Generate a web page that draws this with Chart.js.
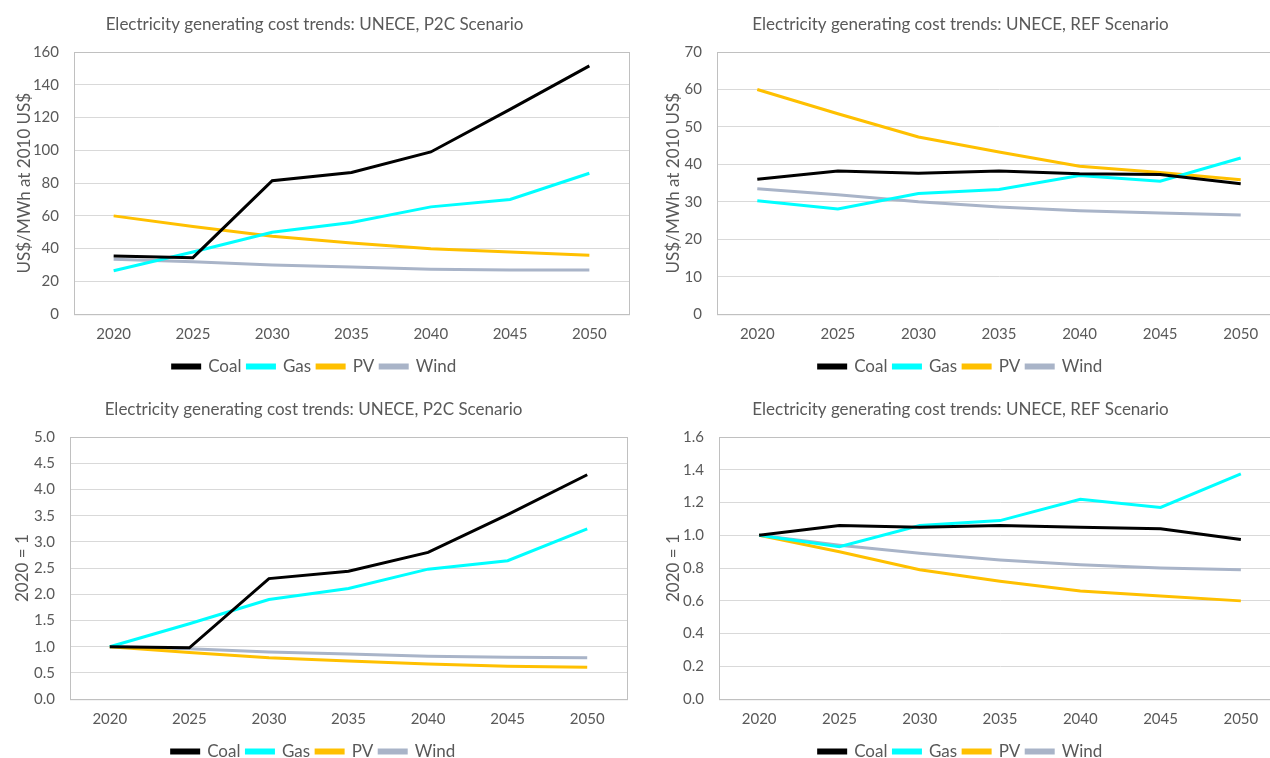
<!DOCTYPE html>
<html>
<head>
<meta charset="utf-8">
<script src="https://cdn.jsdelivr.net/npm/chart.js@4/dist/chart.umd.min.js"></script>
<style>
    body { margin: 0; background: #fff; overflow: hidden; width: 1270px; height: 758px; position: relative; }
    .box { position: absolute; }
</style>
</head>
<body>
<div class="box" style="left:0px;top:0px;width:640px;height:385px"><canvas id="P2CCost"></canvas></div>
<div class="box" style="left:640px;top:0px;width:656px;height:385px"><canvas id="REFCost"></canvas></div>
<div class="box" style="left:0px;top:385px;width:640px;height:385px"><canvas id="P2CIndex"></canvas></div>
<div class="box" style="left:640px;top:385px;width:656px;height:385px"><canvas id="REFIndex"></canvas></div>
<script>
var years = ["2020", "2025", "2030", "2035", "2040", "2045", "2050"];

// US$/MWh at 2010 US$
var p2cCoal = [35.5, 34.5, 81.5, 86.5, 99, 125, 151.5];
var p2cGas = [26.5, 38, 50, 56, 65.5, 70, 86];
var p2cPV = [60, 53.5, 47.5, 43.5, 40, 38, 36];
var p2cWind = [33.5, 32, 30, 28.8, 27.5, 27, 27];

var refCoal = [36, 38.2, 37.6, 38.2, 37.5, 37.3, 34.8];
var refGas = [30.3, 28.1, 32.2, 33.3, 37, 35.5, 41.7];
var refPV = [60, 53.5, 47.3, 43.3, 39.5, 37.8, 35.9];
var refWind = [33.5, 31.9, 30, 28.6, 27.6, 27, 26.5];

// 2020 = 1
var p2cCoalIdx = [1, 0.98, 2.3, 2.44, 2.8, 3.52, 4.28];
var p2cGasIdx = [1, 1.44, 1.9, 2.11, 2.48, 2.64, 3.25];
var p2cPVIdx = [1, 0.89, 0.79, 0.73, 0.67, 0.63, 0.61];
var p2cWindIdx = [1, 0.96, 0.9, 0.86, 0.82, 0.8, 0.79];

var refCoalIdx = [1, 1.06, 1.05, 1.06, 1.05, 1.04, 0.975];
var refGasIdx = [1, 0.93, 1.06, 1.09, 1.22, 1.17, 1.375];
var refPVIdx = [1, 0.9, 0.79, 0.72, 0.66, 0.63, 0.6];
var refWindIdx = [1, 0.94, 0.89, 0.85, 0.82, 0.8, 0.79];

var seriesNames = ["Coal", "Gas", "PV", "Wind"];
var seriesColours = ["#000000", "#00ffff", "#ffc000", "#a9b4c8"];

var textColour = "#595959";

// draws the grey frame round the plot area
var frame = {
    id: "frame",
    beforeDatasetsDraw: function (chart) {
        var a = chart.chartArea;
        var ctx = chart.ctx;
        ctx.save();
        ctx.strokeStyle = "#c0c0c0";
        ctx.lineWidth = 1;
        ctx.strokeRect(a.left + 0.5, a.top + 0.5, a.right - a.left, a.bottom - a.top);
        ctx.restore();
    }
};

function setupChart(canvasId, title, yTitle, values, yMax, yStep, axisWidth, padRight, titleGap, decimals) {
    var datasets = values.map(function (data, i) {
        return {
            label: seriesNames[i],
            data: data,
            borderColor: seriesColours[i],
            backgroundColor: seriesColours[i],
            borderWidth: 3,
            pointRadius: 0,
            tension: 0
        };
    });

    var context = document.getElementById(canvasId).getContext("2d");
    return new Chart(context, {
        type: "line",
        data: { labels: years, datasets: datasets },
        plugins: [frame],
        options: {
            responsive: true,
            maintainAspectRatio: false,
            animation: false,
            layout: { padding: { left: 0, right: padRight, top: 0, bottom: 0 } },
            plugins: {
                title: {
                    display: true,
                    text: title,
                    color: textColour,
                    font: { family: "Lato", size: 17, weight: "normal" },
                    padding: { top: 14, bottom: 17.6 }
                },
                legend: {
                    position: "bottom",
                    labels: {
                        color: textColour,
                        font: { family: "Lato", size: 17 },
                        boxWidth: 27,
                        boxHeight: 3,
                        padding: 6
                    }
                },
                tooltip: { enabled: false }
            },
            scales: {
                x: {
                    offset: true,
                    afterFit: function (scale) { scale.height = 37.8; },
                    grid: { display: false, drawTicks: false },
                    border: { color: "#c0c0c0" },
                    ticks: { color: textColour, font: { family: "Lato", size: 15 }, padding: 11, maxRotation: 0 }
                },
                y: {
                    min: 0,
                    max: yMax,
                    afterFit: function (scale) { scale.width = axisWidth; },
                    grid: { color: "#d9d9d9", drawTicks: false },
                    border: { color: "#c0c0c0" },
                    title: {
                        display: true,
                        text: yTitle,
                        color: textColour,
                        font: { family: "Lato", size: 17 },
                        padding: { top: titleGap, bottom: 0 }
                    },
                    ticks: {
                        stepSize: yStep,
                        color: textColour,
                        font: { family: "Lato", size: 15 },
                        padding: 15,
                        callback: function (v) { return v.toFixed(decimals); }
                    }
                }
            }
        }
    });
}

setupChart("P2CCost", "Electricity generating cost trends: UNECE, P2C Scenario", "US$/MWh at 2010 US$",
    [p2cCoal, p2cGas, p2cPV, p2cWind], 160, 20, 74, 11, 14, 0);
setupChart("REFCost", "Electricity generating cost trends: UNECE, REF Scenario", "US$/MWh at 2010 US$",
    [refCoal, refGas, refPV, refWind], 70, 10, 77, 15, 23, 0);
setupChart("P2CIndex", "Electricity generating cost trends: UNECE, P2C Scenario", "2020 = 1",
    [p2cCoalIdx, p2cGasIdx, p2cPVIdx, p2cWindIdx], 5, 0.5, 70, 13, 12, 1);
setupChart("REFIndex", "Electricity generating cost trends: UNECE, REF Scenario", "2020 = 1",
    [refCoalIdx, refGasIdx, refPVIdx, refWindIdx], 1.6, 0.2, 79, 15, 23, 1);
</script>
</body>
</html>
